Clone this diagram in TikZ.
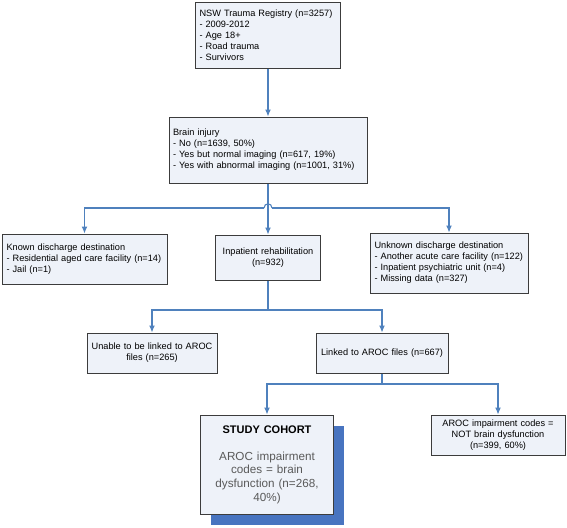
\documentclass[tikz,border=0pt]{standalone}
\usepackage{fontspec}
\setmainfont{Liberation Sans}
\usetikzlibrary{arrows.meta,shadows}
\definecolor{boxfill}{RGB}{238,242,249}
\definecolor{boxdraw}{RGB}{60,60,60}
\definecolor{connblue}{RGB}{79,129,189}
\definecolor{shadowblue}{RGB}{72,116,192}
\definecolor{txtgray}{RGB}{90,90,90}
\begin{document}
\begin{tikzpicture}[x=1pt,y=-1pt,
  every node/.style={font=\fontsize{9.2}{11}\selectfont},
  box/.style={draw=boxdraw, fill=boxfill, line width=1pt, inner xsep=4pt, inner ysep=2pt},
  lbox/.style={box, align=left},
  cbox/.style={box, align=center},
  line/.style={draw=connblue, line width=1.1pt},
  conn/.style={line, -{Latex[length=7pt,width=6pt]}}
]
\useasboundingbox (0,0) rectangle (567,527);

\node[lbox, minimum width=145pt, minimum height=65pt, text width=137pt] (top) at (268,35.5)
  {NSW Trauma Registry (n=3257)\\- 2009-2012\\- Age 18+\\- Road trauma\\- Survivors};
\node[lbox, minimum width=196pt, minimum height=66pt, text width=190pt] (bi) at (268,150)
  {Brain injury\\- No (n=1639, 50\%)\\- Yes but normal imaging (n=617, 19\%)\\- Yes with abnormal imaging (n=1001, 31\%)};
\node[lbox, minimum width=165pt, minimum height=50pt, text width=156pt] (kn) at (84.5,259)
  {Known discharge destination\\- Residential aged care facility (n=14)\\- Jail (n=1)};
\node[cbox, minimum width=105pt, minimum height=45pt, text width=97pt] (mid) at (268,257.5)
  {Inpatient rehabilitation\\(n=932)};
\node[lbox, minimum width=158pt, minimum height=60pt, text width=149pt] (un) at (449,263)
  {Unknown discharge destination\\- Another acute care facility (n=122)\\- Inpatient psychiatric unit (n=4)\\- Missing data (n=327)};
\node[cbox, minimum width=130pt, minimum height=40pt, text width=122pt] (unable) at (152,353)
  {Unable to be linked to AROC\\files (n=265)};
\node[cbox, minimum width=132pt, minimum height=40pt, text width=124pt] (linked) at (382,353)
  {Linked to AROC files (n=667)};
\node[cbox, minimum width=133pt, minimum height=99pt, text width=125pt, text=txtgray,
  font=\fontsize{11.7}{13.7}\selectfont,
  drop shadow={shadow xshift=10pt, shadow yshift=-11pt, fill=shadowblue, opacity=1}] (study) at (267,464.5)
  {{\color{black}\bfseries\fontsize{11}{13.7}\selectfont STUDY COHORT}\\[13.3pt]AROC impairment\\codes = brain\\dysfunction (n=268,\\40\%)};
\node[cbox, minimum width=132pt, minimum height=40pt, text width=126pt] (notb) at (498,435)
  {AROC impairment codes =\\NOT brain dysfunction\\(n=399, 60\%)};

% connectors
\draw[conn] (top.south) -- (bi.north);
\draw[conn] (bi.south) -- (mid.north);
\coordinate (hl) at (264,208);
\coordinate (hr) at (272,208);
\draw[conn] (hl) -| (kn.north);
\draw[conn] (hr) -| (un.north);
\draw[line] (hl) .. controls (264,202.5) and (272,202.5) .. (hr);

\coordinate (j2) at (268,310);
\draw[line] (mid.south) -- (j2);
\draw[conn] (j2) -| (unable.north);
\draw[conn] (j2) -| (linked.north);

\coordinate (j3) at (382,384);
\draw[line] (linked.south) -- (j3);
\draw[conn] (j3) -| (study.north);
\draw[conn] (j3) -| (notb.north);
\end{tikzpicture}
\end{document}
